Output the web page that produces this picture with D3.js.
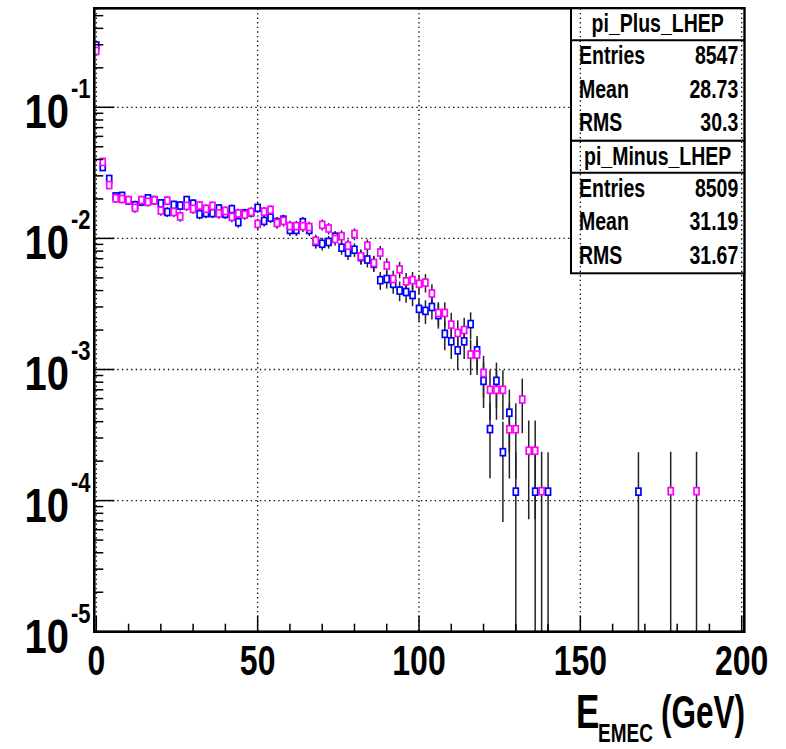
<!DOCTYPE html>
<html>
<head>
<meta charset="utf-8">
<script src="https://cdn.jsdelivr.net/npm/d3@7"></script>
<style>
  body { margin: 0; background: #fff; }
  text { font-family: "Liberation Sans", Arial, Helvetica, sans-serif; font-weight: bold; fill: #000; }
</style>
</head>
<body>
<div id="chart"></div>
<script>
const width = 786;
const height = 749;
const binWidth = 2;            // GeV per bin, bins centred on 0, 2, 4 ...

// fraction of entries per bin (null = empty bin)
const piPlusVals = [
  0.296, 0.0350, 0.0284, 0.0209, 0.0211, 0.0195, 0.0179, 0.0191, 0.0202, 0.0196,
  0.0185, 0.0159, 0.0180, 0.0178, 0.0196, 0.0184, 0.0153, 0.0156, 0.0156, 0.0169,
  0.0154, 0.0167, 0.0133, 0.0155, 0.0158, 0.0171, 0.0136, 0.0144, 0.0133, 0.0139,
  0.0116, 0.0116, 0.0133, 0.0116, 0.0094, 0.0091, 0.0094, 0.0103, 0.0085, 0.0078,
  0.0082, 0.0072, 0.0069, 0.0064, 0.0048, 0.0049, 0.0045, 0.0040, 0.0039, 0.0037,
  0.0029, 0.0028, 0.0030, 0.0026, 0.00187, 0.00164, 0.00140, 0.00164, 0.00222, 0.00140,
  0.000819, 0.000351, 0.000819, 0.000234, 0.000468, 0.000117, null, null, 0.000117, null,
  0.000117
];
const piPlusTailBins = [84];
const piPlusTailVals = [0.000117];

const piMinusVals = [
  0.269, 0.0383, 0.0255, 0.0202, 0.0200, 0.0196, 0.0171, 0.0196, 0.0190, 0.0195,
  0.0163, 0.0194, 0.0159, 0.0147, 0.0177, 0.0168, 0.0178, 0.0168, 0.0177, 0.0155,
  0.0162, 0.0146, 0.0155, 0.0152, 0.0159, 0.0129, 0.0160, 0.0165, 0.0131, 0.0136,
  0.0124, 0.0124, 0.0124, 0.0122, 0.0096, 0.0127, 0.0119, 0.0099, 0.0104, 0.0088,
  0.0108, 0.0073, 0.0088, 0.0065, 0.0078, 0.0062, 0.0049, 0.0058, 0.0047, 0.0048,
  0.0045, 0.0046, 0.0038, 0.0027, 0.0027, 0.0022, 0.0019, 0.0020, 0.0013, 0.0013,
  0.00094, 0.00070, 0.00070, 0.00070, 0.00035, 0.00035, 0.00059, 0.00024, 0.00024, 0.000118
];
const piMinusTailBins = [89, 93];
const piMinusTailVals = [0.000118, 0.000118];

const statNames = ["pi_Plus_LHEP", "pi_Minus_LHEP"];
const statEntries = [8547, 8509];
const statMeans = ["28.73", "31.19"];
const statRms = ["30.3", "31.67"];
const colors = ["#0000ff", "#ff00ff"];

const xTicks = [0, 50, 100, 150, 200];
const yDecades = [-5, -4, -3, -2, -1];

function toPoints(vals, tailBins, tailVals, n) {
  let pts = [];
  vals.forEach((v, i) => { if (v != null) pts.push({e: i * binWidth, v: v}); });
  tailBins.forEach((b, i) => pts.push({e: b * binWidth, v: tailVals[i]}));
  pts.forEach(p => { p.err = Math.sqrt(p.v / n); });
  return pts;
}
const series = [
  toPoints(piPlusVals, piPlusTailBins, piPlusTailVals, statEntries[0]),
  toPoints(piMinusVals, piMinusTailBins, piMinusTailVals, statEntries[1])
];

const frame = {left: 94.3, right: 744.3, top: 8.3, bottom: 631.7};

let x = d3.scaleLinear().domain([0, 200]).range([96.3, 741.7]);
let y = d3.scaleLog().domain([1e-5, 0.569]).range([frame.bottom, frame.top]);

let svg = d3.select("#chart").append("svg")
  .attr("width", width).attr("height", height);

svg.append("rect").attr("width", width).attr("height", height).attr("fill", "#fff");

// grid
let grid = svg.append("g").attr("stroke", "#111").attr("stroke-width", 1.3)
  .attr("stroke-dasharray", "1.4,3.2");
grid.selectAll(".gy").data(yDecades.slice(1)).enter().append("line")
  .attr("x1", frame.left).attr("x2", frame.right)
  .attr("y1", d => y(Math.pow(10, d))).attr("y2", d => y(Math.pow(10, d)));
grid.selectAll(".gx").data(xTicks).enter().append("line")
  .attr("x1", d => x(d)).attr("x2", d => x(d))
  .attr("y1", frame.top).attr("y2", frame.bottom);

// error bars, then markers, blue first, magenta on top
let clipBottom = frame.bottom;
series.forEach((pts, k) => {
  let g = svg.append("g");
  g.selectAll("line").data(pts).enter().append("line")
    .attr("x1", d => x(d.e)).attr("x2", d => x(d.e))
    .attr("y1", d => y(d.v + d.err))
    .attr("y2", d => (d.v - d.err) > 1e-5 ? y(d.v - d.err) : clipBottom)
    .attr("stroke", "#222").attr("stroke-width", 1.5);
});
series.forEach((pts, k) => {
  svg.append("g").selectAll("rect").data(pts).enter().append("rect")
    .attr("x", d => x(d.e) - 2.5).attr("y", d => y(d.v) - 3.5)
    .attr("width", 5).attr("height", 7)
    .attr("fill", "#fff").attr("stroke", colors[k]).attr("stroke-width", 1.7);
});

// frame
svg.append("rect")
  .attr("x", frame.left).attr("y", frame.top)
  .attr("width", frame.right - frame.left).attr("height", frame.bottom - frame.top)
  .attr("fill", "none").attr("stroke", "#000").attr("stroke-width", 2.6);

// x ticks (inside, from the bottom)
let axes = svg.append("g").attr("stroke", "#000").attr("stroke-width", 1.5);
let xMinor = d3.range(0, 201, 10);
axes.selectAll(".xt").data(xMinor).enter().append("line")
  .attr("x1", d => x(d)).attr("x2", d => x(d))
  .attr("y1", frame.bottom)
  .attr("y2", d => frame.bottom - (d % 50 === 0 ? 16 : 8));

// y ticks (inside, from the left)
let yMinor = [];
yDecades.forEach(p => { for (let m = 1; m <= 9; m++) { let v = m * Math.pow(10, p); if (v <= 0.569) yMinor.push({v: v, major: m === 1}); } });
axes.selectAll(".yt").data(yMinor).enter().append("line")
  .attr("x1", frame.left).attr("x2", d => frame.left + (d.major ? 20 : 9))
  .attr("y1", d => y(d.v)).attr("y2", d => y(d.v));

// the picture is vertically stretched, so text gets a y scale
function stretchedText(parent, tx, ty, str, size, anchor, sy) {
  return parent.append("text")
    .attr("transform", "translate(" + tx + "," + ty + ") scale(1," + (sy || 1.35) + ")")
    .attr("font-size", size).attr("text-anchor", anchor || "start").text(str);
}

// x labels
xTicks.forEach(t => stretchedText(svg, x(t), 675, t, 32, "middle"));

// y labels 10^p
yDecades.forEach(p => {
  let yy = y(Math.pow(10, p));
  stretchedText(svg, 69, yy + 21, "10", 40, "end", 1.2);
  stretchedText(svg, 71, yy - 9, String(p), 22, "start", 1.25);
});

// x title
stretchedText(svg, 576, 728, "E", 35, "start");
stretchedText(svg, 598, 742, "EMEC", 19, "start");
stretchedText(svg, 661, 728, "(GeV)", 31.5, "start", 1.45);

// stats boxes
const box = {left: 571, right: 744.3, top: 8.3, head: 32, row: 33.5};
let stats = svg.append("g");
statNames.forEach((name, k) => {
  let top = box.top + k * (box.head + 3 * box.row);
  let h = box.head + 3 * box.row;
  stats.append("rect").attr("x", box.left).attr("y", top)
    .attr("width", box.right - box.left).attr("height", h)
    .attr("fill", "#fff").attr("stroke", "#000").attr("stroke-width", 2);
  stats.append("line").attr("x1", box.left).attr("x2", box.right)
    .attr("y1", top + box.head).attr("y2", top + box.head)
    .attr("stroke", "#000").attr("stroke-width", 2);
  stretchedText(stats, (box.left + box.right) / 2, top + box.head - 8, name, 19.5, "middle");
  let rows = [["Entries", statEntries[k]], ["Mean", statMeans[k]], ["RMS", statRms[k]]];
  rows.forEach((r, j) => {
    let base = top + box.head + j * box.row + 24;
    stretchedText(stats, box.left + 8, base, r[0], 19.5, "start");
    stretchedText(stats, box.right - 6, base, r[1], 19.5, "end");
  });
});

// vertical grid lines show through the stats box
let grid2 = svg.append("g").attr("stroke", "#111").attr("stroke-width", 1.3)
  .attr("stroke-dasharray", "1.4,3.2");
grid2.selectAll("line").data(xTicks.filter(d => x(d) > box.left)).enter().append("line")
  .attr("x1", d => x(d)).attr("x2", d => x(d))
  .attr("y1", box.top).attr("y2", box.top + 2 * (box.head + 3 * box.row));
</script>
</body>
</html>
